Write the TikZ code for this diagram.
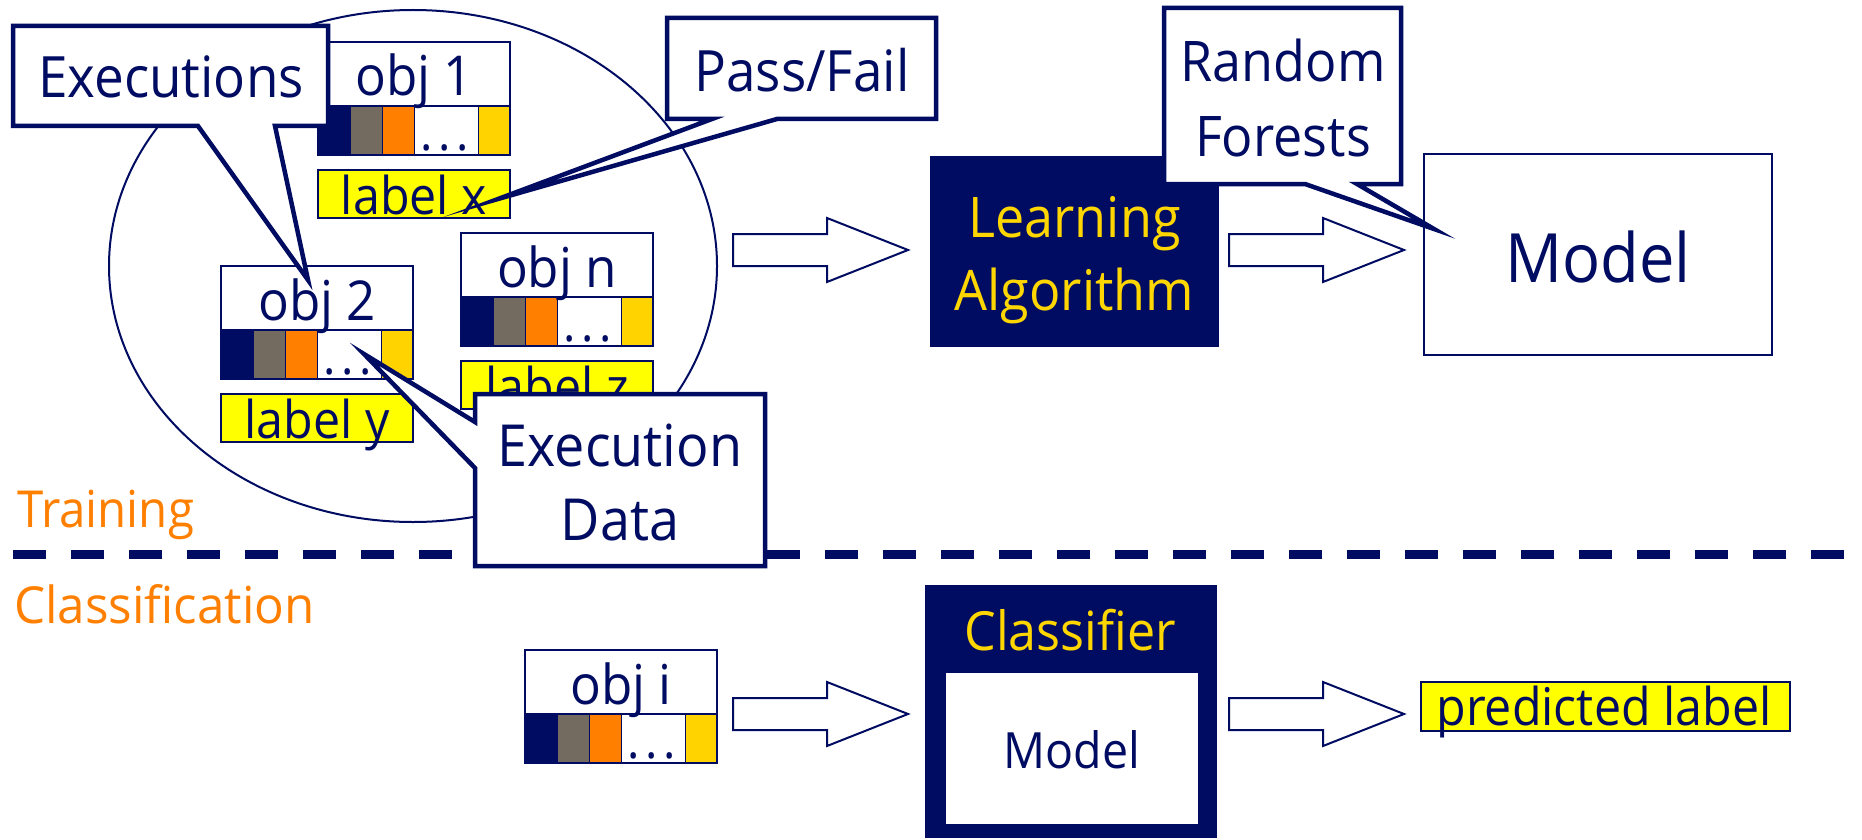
\documentclass[tikz,border=0pt]{standalone}
\usepackage{fontspec}
\setmainfont{Open Sans}[FakeStretch=0.93]
\definecolor{navy}{RGB}{0,12,98}
\definecolor{orangetxt}{RGB}{255,128,0}
\definecolor{greyseg}{RGB}{115,107,96}
\definecolor{orangeseg}{RGB}{255,128,0}
\definecolor{goldseg}{RGB}{255,211,0}
\definecolor{lblyellow}{RGB}{255,255,0}
\definecolor{goldtxt}{RGB}{255,214,0}
\tikzset{
  txt/.style={inner sep=0pt, text=navy, anchor=base},
  objtxt/.style={txt, font=\fontsize{55}{60}\selectfont},
  dotstxt/.style={txt, font=\fontsize{50}{60}\selectfont},
  lbltxt/.style={txt, font=\fontsize{52}{60}\selectfont},
  calltxt/.style={txt, font=\fontsize{57}{74}\selectfont, align=center},
  sectxt/.style={inner sep=0pt, text=orangetxt, anchor=base west, font=\fontsize{51}{60}\selectfont},
  callout/.style={draw=navy, fill=white, line width=4.5pt, line join=miter, miter limit=30},
  barrow/.style={draw=navy, fill=white, line width=2pt},
  thinbox/.style={draw=navy, fill=white, line width=2pt},
}
\newcommand\objbox[4]{%
  \fill[navy] (#2,#3+64) rectangle ++(32,49);
  \filldraw[fill=greyseg, draw=navy, line width=1pt] (#2+32,#3+64) rectangle ++(32,49);
  \filldraw[fill=orangeseg, draw=navy, line width=1pt] (#2+64,#3+64) rectangle ++(32,49);
  \filldraw[fill=white, draw=navy, line width=1pt] (#2+96,#3+64) rectangle ++(64,49);
  \filldraw[fill=goldseg, draw=navy, line width=1pt] (#2+160,#3+64) rectangle ++(32,49);
  \filldraw[fill=white, draw=navy, line width=2pt] (#2,#3) rectangle ++(192,64);
  \draw[navy, line width=2pt] (#2,#3) rectangle ++(192,113);
  \node[objtxt] (#1) at (#2+96,#3+54) {#4};
  \node[dotstxt] (#1-dots) at (#2+127,#3+108) {.\kern5.5pt.\kern5.5pt.};
}
\newcommand\lblbox[4]{%
  \filldraw[fill=lblyellow, draw=navy, line width=2pt] (#2,#3) rectangle ++(192,48);
  \node[lbltxt] (#1) at (#2+96,#3+44) {#4};
}
\newcommand\blockarrow[3]{%
  \coordinate (#1) at (#2,#3);
  \draw[barrow] (#1) ++(0,-16) -- ++(94,0) -- ++(0,-16) -- ++(81,32) -- ++(-81,32) -- ++(0,-16) -- ++(-94,0) -- cycle;
}
\begin{document}
\begin{tikzpicture}[x=1pt,y=-1pt]
\useasboundingbox (0,0) rectangle (1862,840);
\fill[white] (0,0) rectangle (1862,840);

% training set ellipse
\draw[navy, line width=2pt] (413,266) ellipse [x radius=304pt, y radius=256pt];

% objects
\objbox{obj1}{318}{42}{obj 1}
\lblbox{lblx}{318}{170}{label x}
\objbox{obj2}{221}{266}{obj 2}
\lblbox{lbly}{221}{394}{label y}
\objbox{objn}{461}{233}{obj n}
\lblbox{lblz}{461}{361}{label z}

% learning algorithm
\fill[navy] (930,156) rectangle (1219,347);
\node[txt, text=goldtxt, font=\fontsize{56}{73}\selectfont, align=center] (learn) at (1074.5,310) {Learning\\Algorithm};

% model
\draw[thinbox] (1424,154) rectangle (1772,355);
\node[txt, font=\fontsize{68}{70}\selectfont] (model) at (1598,282) {Model};

% arrows (training)
\blockarrow{a1}{733}{250}
\blockarrow{a2}{1229}{250}

% section labels and divider
\node[sectxt] (training) at (17,527) {Training};
\draw[navy, line width=9pt, dash pattern=on 33pt off 25pt] (13,554) -- (1862,554);
\node[sectxt] (classif) at (14,623) {\scalebox{1.04}[1]{Classification}};

% classification row
\objbox{obji}{525}{650}{obj i}
\blockarrow{a3}{733}{714}
\fill[navy] (925,585) rectangle (1217,838);
\node[txt, text=goldtxt, font=\fontsize{54}{60}\selectfont] (classifier) at (1070,650) {Classifier};
\draw[thinbox] (945,672) rectangle (1199,825);
\node[txt, font=\fontsize{50}{60}\selectfont] (model2) at (1072,768) {Model};
\blockarrow{a4}{1229}{714}
\filldraw[fill=lblyellow, draw=navy, line width=2.5pt] (1421,682) rectangle (1790,731);
\node[lbltxt] (pred) at (1604,725) {predicted label};

% callouts
\draw[callout] (13,26) -- (328,26) -- (328,126) -- (275,126) -- (308,280) -- (198,126) -- (13,126) -- cycle;
\node[calltxt] (exec) at (171,98) {Executions};

\draw[callout] (667,18) -- (936,18) -- (936,119) -- (777,119) -- (498,199) -- (712,119) -- (667,119) -- cycle;
\node[calltxt] (passfail) at (802,92) {Pass/Fail};

\draw[callout] (1164,8) -- (1401,8) -- (1401,184) -- (1357,184) -- (1434,229) -- (1305,184) -- (1164,184) -- cycle;
\node[calltxt, font=\fontsize{56}{75}\selectfont] (rf) at (1283,157) {Random\\Forests};

\draw[callout] (475,394) -- (765,394) -- (765,566) -- (475,566) -- (475,468) -- (364,354) -- (475,422) -- cycle;
\node[calltxt, font=\fontsize{58}{74}\selectfont] (execdata) at (620,540) {Execution\\Data};
\end{tikzpicture}
\end{document}
